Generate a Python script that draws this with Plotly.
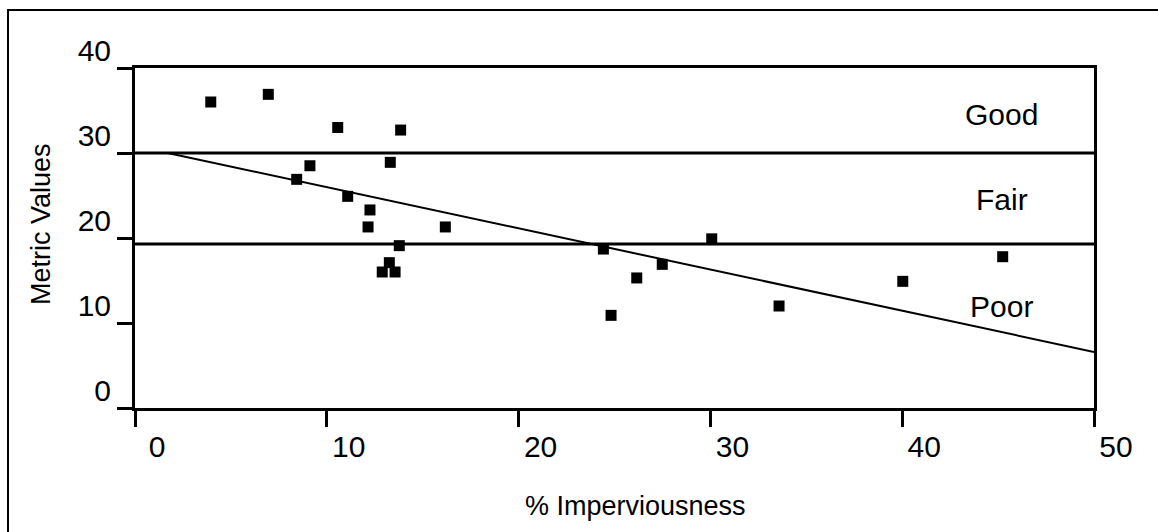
import plotly.graph_objects as go

# Data
imperviousness = [3.95, 6.95, 10.57, 9.12, 8.43, 11.09, 13.85, 13.31, 12.25, 12.15,
                  16.18, 13.78, 13.26, 12.89, 13.56, 24.42, 30.07, 27.49, 26.16, 24.82,
                  33.58, 40.03, 45.24]
metric_values = [36.0, 36.9, 33.0, 28.5, 26.9, 24.9, 32.7, 28.9, 23.3, 21.3,
                 21.3, 19.1, 17.1, 16.0, 16.0, 18.7, 19.9, 16.9, 15.3, 10.9,
                 12.0, 14.9, 17.8]

trend_x = [1.7, 50]
trend_y = [30.0, 6.6]

threshold_x = [0, 50]
good_fair = 30
fair_poor = 19.3

class_labels = ["Good", "Fair", "Poor"]
class_label_x = [45.2, 45.2, 45.2]
class_label_y = [34.5, 24.5, 12.0]

x_ticks = [0, 10, 20, 30, 40, 50]
y_ticks = [0, 10, 20, 30, 40]

FONT = "Liberation Sans, Arial, sans-serif"
W, H = 1158, 532
L, R, T, B = 135, 1094, 68, 408

def px(xp):
    return (xp - L) / (R - L)

def py(yp):
    return (B - yp) / (B - T)

fig = go.Figure()

for yv in [good_fair, fair_poor]:
    fig.add_trace(go.Scatter(x=threshold_x, y=[yv, yv], mode="lines",
                             line=dict(color="black", width=3),
                             showlegend=False, hoverinfo="skip"))

fig.add_trace(go.Scatter(x=trend_x, y=trend_y, mode="lines",
                         line=dict(color="black", width=2),
                         showlegend=False, hoverinfo="skip"))

fig.add_trace(go.Scatter(x=imperviousness, y=metric_values, mode="markers",
                         marker=dict(symbol="square", size=11, color="black",
                                     line=dict(width=0)),
                         showlegend=False))

for t, xv, yv in zip(class_labels, class_label_x, class_label_y):
    fig.add_annotation(x=xv, y=yv, text=t, showarrow=False,
                       font=dict(family=FONT, size=30, color="black"),
                       xanchor="center", yanchor="middle")

# axis titles
fig.add_annotation(xref="paper", yref="paper", x=px(635), y=py(506),
                   text="% Imperviousness", showarrow=False,
                   font=dict(family=FONT, size=27, color="black"),
                   xanchor="center", yanchor="middle")
fig.add_annotation(xref="paper", yref="paper", x=px(41), y=py(224),
                   text="Metric Values", showarrow=False, textangle=-90,
                   font=dict(family=FONT, size=27, color="black"),
                   xanchor="center", yanchor="middle")

# outer frame
fig.add_shape(type="rect", xref="paper", yref="paper",
              x0=px(8), x1=px(1170), y0=py(545), y1=py(10),
              line=dict(color="black", width=2), fillcolor="rgba(0,0,0,0)",
              layer="below")

fig.update_layout(
    width=W, height=H,
    margin=dict(l=L, r=W - R, t=T, b=H - B, pad=0),
    paper_bgcolor="white", plot_bgcolor="white",
    font=dict(family=FONT, color="black"),
    showlegend=False,
    xaxis=dict(range=[0, 50], tickvals=x_ticks, ticks="outside", ticklen=16,
               tickwidth=3, tickcolor="black", showline=True, linewidth=3,
               linecolor="black", mirror=True, showgrid=False, zeroline=False,
               tickfont=dict(family=FONT, size=30, color="black"),
               ticklabelshift=22, ticklabelstandoff=-6),
    yaxis=dict(range=[0, 40], tickvals=y_ticks, ticks="outside", ticklen=15,
               tickwidth=3, tickcolor="black", showline=True, linewidth=3,
               linecolor="black", mirror=True, showgrid=False, zeroline=False,
               tickfont=dict(family=FONT, size=30, color="black"),
               ticklabelshift=-18, ticklabelstandoff=0),
)

fig.write_html("out.html")
